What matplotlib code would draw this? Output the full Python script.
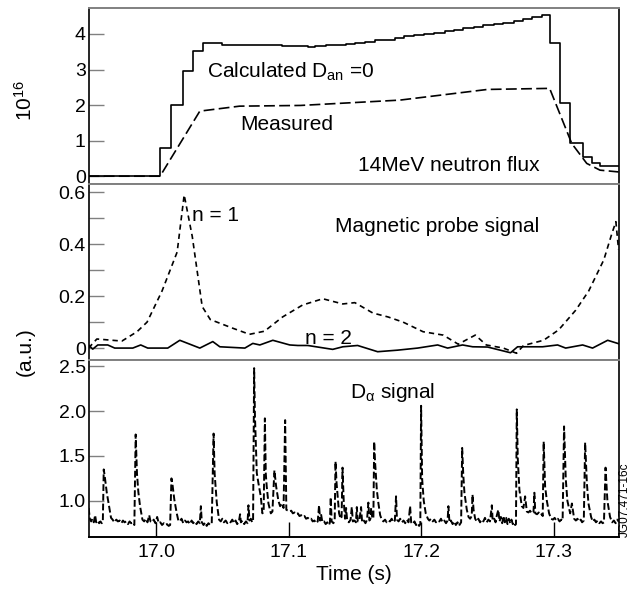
#!/usr/bin/env python
# -*- coding: utf-8 -*-
"""Neutron flux, magnetic probe and D-alpha traces on a shared time axis."""

import matplotlib as mpl
mpl.use('Agg')
from matplotlib import pyplot as plt
from matplotlib.ticker import MultipleLocator

FIG_W_IN = 6.34
FIG_H_IN = 5.90
DPI = 100

# 14 MeV neutron flux, calculated with D_an = 0 (step trace), units of 1e16
CALC_T = [16.949, 17.003, 17.0115, 17.020, 17.028, 17.0355, 17.045, 17.050,
          17.060, 17.070, 17.080, 17.090, 17.095, 17.100, 17.110, 17.115,
          17.120, 17.128, 17.135, 17.143, 17.150, 17.158, 17.165, 17.172,
          17.180, 17.187, 17.195, 17.202, 17.210, 17.218, 17.225, 17.232,
          17.240, 17.247, 17.255, 17.262, 17.270, 17.277, 17.284, 17.291,
          17.2974, 17.305, 17.3125, 17.3223, 17.329, 17.335, 17.349]
CALC_V = [0.0, 0.80, 2.00, 2.95, 3.52, 3.74, 3.74, 3.70,
          3.69, 3.69, 3.70, 3.70, 3.66, 3.67, 3.66, 3.64,
          3.67, 3.68, 3.70, 3.73, 3.75, 3.78, 3.82, 3.84,
          3.88, 3.93, 3.96, 4.00, 4.03, 4.07, 4.12, 4.16,
          4.20, 4.24, 4.27, 4.31, 4.36, 4.42, 4.47, 4.52,
          3.74, 2.05, 0.93, 0.54, 0.36, 0.28, 0.28]

# measured neutron flux
MEAS_T = [16.949, 17.003, 17.033, 17.063, 17.109, 17.184, 17.250, 17.297,
          17.3137, 17.325, 17.335, 17.349]
MEAS_V = [0.0, 0.0, 1.83, 1.97, 1.99, 2.14, 2.44, 2.47,
          0.92, 0.36, 0.17, 0.12]

# magnetic probe, n = 1 mode
N1_T = [16.949, 16.9553, 16.9742, 16.9856, 16.9932, 17.0045, 17.0159, 17.0212,
        17.0273, 17.0348, 17.0409, 17.0576, 17.0705, 17.0818, 17.0955, 17.1106,
        17.1182, 17.1258, 17.1409, 17.1500, 17.1636, 17.1750, 17.1864, 17.2015,
        17.2167, 17.2280, 17.2409, 17.2492, 17.2621, 17.2720, 17.2773, 17.2924,
        17.3038, 17.3167, 17.3265, 17.3379, 17.3439, 17.3470, 17.3490]
N1_V = [0.0, 0.035, 0.027, 0.063, 0.10, 0.22, 0.37, 0.59,
        0.43, 0.16, 0.11, 0.077, 0.053, 0.065, 0.12, 0.166,
        0.178, 0.19, 0.17, 0.175, 0.135, 0.12, 0.10, 0.063,
        0.05, 0.015, 0.05, 0.012, 0.0, -0.02, 0.01, 0.03,
        0.07, 0.146, 0.22, 0.34, 0.44, 0.487, 0.38]

# magnetic probe, n = 2 mode
N2_T = [16.949, 16.9522, 16.9560, 16.9635, 16.9688, 16.9824, 16.9884, 16.9937,
        17.0088, 17.0179, 17.0330, 17.0428, 17.0481, 17.0670, 17.0730, 17.0783,
        17.0881, 17.1009, 17.1070, 17.1145, 17.1333, 17.1409, 17.1521, 17.1672,
        17.1823, 17.1974, 17.2125, 17.2200, 17.2313, 17.2389, 17.2502, 17.2675,
        17.2728, 17.2917, 17.3030, 17.3091, 17.3219, 17.3294, 17.3408, 17.3490]
N2_V = [0.012, -0.004, 0.012, 0.012, 0.0, 0.0, 0.012, 0.0,
        0.0, 0.03, 0.0, 0.025, 0.005, 0.0, 0.018, 0.012,
        0.03, 0.012, 0.01, 0.01, -0.005, 0.005, 0.01, -0.014,
        -0.008, 0.0, 0.012, 0.0, 0.012, 0.005, 0.004, -0.018,
        0.005, 0.005, 0.012, 0.0, 0.012, 0.0, 0.03, 0.017]

# D-alpha signal (a.u.)
DA_T = [16.9491, 16.9500, 16.9510, 16.9520, 16.9530, 16.9540, 16.9548, 16.9560,
        16.9570, 16.9580, 16.9590, 16.9598,
        16.9605, 16.9612, 16.9628, 16.9645, 16.9660, 16.9672,
        16.9685, 16.9700, 16.9712, 16.9725, 16.9738, 16.9750, 16.9762, 16.9775,
        16.9788, 16.9800, 16.9812, 16.9825, 16.9836,
        16.9846, 16.9856, 16.9866, 16.9879, 16.9897,
        16.9910, 16.9922, 16.9935, 16.9948, 16.9958, 16.9970, 16.9982, 16.9995,
        17.0008, 17.0020, 17.0032, 17.0045, 17.0058, 17.0070, 17.0082, 17.0095,
        17.0106,
        17.0116, 17.0124, 17.0138, 17.0156, 17.0168,
        17.0180, 17.0192, 17.0205, 17.0218, 17.0230, 17.0242, 17.0255, 17.0268,
        17.0280, 17.0292, 17.0305, 17.0318, 17.0330, 17.0338, 17.0345, 17.0358,
        17.0370, 17.0382, 17.0395, 17.0408, 17.0420,
        17.0434, 17.0442, 17.0458, 17.0475,
        17.0488, 17.0500, 17.0512, 17.0525, 17.0538, 17.0550, 17.0562, 17.0575,
        17.0588, 17.0600, 17.0612, 17.0625, 17.0634, 17.0640, 17.0652, 17.0665,
        17.0678, 17.0690, 17.0697, 17.0705, 17.0715, 17.0725, 17.0732,
        17.0740, 17.0746, 17.0752, 17.0760, 17.0772, 17.0790, 17.0802, 17.0812,
        17.0821, 17.0828, 17.0835, 17.0848, 17.0866, 17.0878,
        17.0893, 17.0906, 17.0923, 17.0936, 17.0949, 17.0962,
        17.0974, 17.0983,
        17.0995, 17.1008, 17.1020, 17.1032, 17.1045, 17.1058, 17.1070, 17.1082,
        17.1095, 17.1108, 17.1120, 17.1132, 17.1145, 17.1158, 17.1170, 17.1182,
        17.1195, 17.1208, 17.1220, 17.1230, 17.1238, 17.1245, 17.1255, 17.1268,
        17.1280, 17.1292, 17.1305, 17.1312, 17.1318, 17.1325, 17.1338, 17.1348,
        17.1354, 17.1362, 17.1368, 17.1381, 17.1392, 17.1400,
        17.1407, 17.1416, 17.1426,
        17.1434, 17.1442, 17.1455, 17.1468, 17.1477, 17.1485, 17.1498, 17.1508,
        17.1515, 17.1522, 17.1535, 17.1547, 17.1555, 17.1568, 17.1580, 17.1592,
        17.1602, 17.1610, 17.1618, 17.1623, 17.1632, 17.1640,
        17.1646, 17.1652, 17.1658, 17.1666, 17.1678, 17.1691, 17.1703,
        17.1715, 17.1728, 17.1740, 17.1752, 17.1765, 17.1778, 17.1790, 17.1802,
        17.1811, 17.1818, 17.1830, 17.1842, 17.1855, 17.1868, 17.1880, 17.1892,
        17.1905, 17.1917, 17.1925, 17.1938, 17.1950, 17.1962, 17.1975, 17.1985,
        17.1994,
        17.2000, 17.2008, 17.2020, 17.2035, 17.2051,
        17.2062, 17.2075, 17.2088, 17.2100, 17.2112, 17.2125, 17.2138, 17.2150,
        17.2162, 17.2175, 17.2188, 17.2200, 17.2206, 17.2214, 17.2225, 17.2238,
        17.2250, 17.2262, 17.2275, 17.2285, 17.2294, 17.2302,
        17.2310, 17.2318, 17.2327, 17.2345, 17.2358, 17.2370, 17.2382,
        17.2388, 17.2396, 17.2408,
        17.2420, 17.2432, 17.2445, 17.2458, 17.2470, 17.2482, 17.2495, 17.2508,
        17.2520, 17.2534, 17.2540, 17.2552, 17.2562, 17.2572, 17.2583, 17.2592,
        17.2602, 17.2612, 17.2622, 17.2632, 17.2642, 17.2652, 17.2662, 17.2672,
        17.2682, 17.2692, 17.2702, 17.2710, 17.2716,
        17.2722, 17.2730, 17.2742, 17.2760, 17.2772, 17.2785, 17.2798,
        17.2810, 17.2822, 17.2835, 17.2848, 17.2855, 17.2862, 17.2875, 17.2888,
        17.2900, 17.2911, 17.2918,
        17.2925, 17.2936, 17.2949, 17.2966, 17.2981,
        17.2995, 17.3008, 17.3020, 17.3032, 17.3045, 17.3058, 17.3068,
        17.3079, 17.3092, 17.3104, 17.3125, 17.3138, 17.3155,
        17.3168, 17.3180, 17.3192, 17.3205, 17.3215, 17.3228,
        17.3238, 17.3251, 17.3263, 17.3283,
        17.3295, 17.3308, 17.3320, 17.3332, 17.3345, 17.3358, 17.3370, 17.3380,
        17.3392, 17.3406, 17.3426, 17.3442, 17.3455, 17.3468, 17.3480, 17.3491]
DA_V = [0.92, 0.80, 0.77, 0.80, 0.76, 0.84, 0.76, 0.78,
        0.75, 0.77, 0.75, 0.76,
        1.35, 1.28, 1.09, 0.94, 0.81, 0.79,
        0.76, 0.79, 0.77, 0.78, 0.75, 0.78, 0.76, 0.77,
        0.74, 0.77, 0.75, 0.76, 0.73,
        1.74, 1.30, 1.10, 0.94, 0.79,
        0.77, 0.80, 0.76, 0.84, 0.77, 0.76, 0.79, 0.75,
        0.82, 0.75, 0.76, 0.73, 0.75, 0.73, 0.74, 0.72,
        0.73,
        1.25, 1.18, 1.01, 0.86, 0.78,
        0.77, 0.80, 0.75, 0.78, 0.76, 0.77, 0.74, 0.78,
        0.75, 0.77, 0.74, 0.77, 0.75, 0.94, 0.76, 0.73,
        0.76, 0.72, 0.75, 0.73, 0.75,
        1.75, 1.30, 0.98, 0.79,
        0.77, 0.80, 0.76, 0.78, 0.75, 0.77, 0.76, 0.79,
        0.75, 0.78, 0.74, 0.77, 0.85, 0.76, 0.78, 0.74,
        0.77, 0.75, 0.95, 0.78, 0.80, 0.76, 0.78,
        2.48, 1.95, 1.68, 1.31, 1.20, 1.05, 0.86, 0.88,
        1.92, 1.30, 1.16, 0.97, 0.86, 0.88,
        1.34, 1.16, 1.00, 0.94, 0.97, 0.92,
        1.90, 0.90,
        0.89, 0.88, 0.89, 0.86, 0.87, 0.85, 0.86, 0.83,
        0.84, 0.82, 0.83, 0.80, 0.81, 0.79, 0.80, 0.77,
        0.78, 0.75, 0.77, 0.95, 0.78, 0.85, 0.76, 0.77,
        0.74, 0.76, 0.73, 0.76, 1.04, 0.77, 0.75, 0.78,
        1.44, 1.20, 1.09, 0.86, 0.80, 0.82,
        1.37, 1.00, 0.80,
        0.92, 0.78, 0.76, 0.79, 0.93, 0.77, 0.78, 0.76,
        0.93, 0.77, 0.79, 0.93, 0.76, 0.78, 0.75, 0.79,
        0.98, 0.78, 0.80, 0.92, 0.80, 0.82,
        1.66, 1.45, 1.31, 1.12, 0.97, 0.84, 0.79,
        0.77, 0.79, 0.76, 0.78, 0.77, 0.80, 0.76, 0.78,
        1.05, 0.79, 0.77, 0.80, 0.76, 0.78, 0.75, 0.79,
        0.76, 0.94, 0.76, 0.74, 0.77, 0.73, 0.75, 0.72,
        0.74,
        2.06, 1.24, 1.00, 0.86, 0.80,
        0.78, 0.80, 0.77, 0.79, 0.76, 0.78, 0.77, 0.80,
        0.76, 0.78, 0.75, 0.78, 0.94, 0.76, 0.78, 0.74,
        0.77, 0.73, 0.76, 0.72, 0.74, 0.76,
        1.59, 1.30, 1.09, 0.90, 0.82, 0.80, 0.83,
        1.07, 0.90, 0.80,
        0.77, 0.80, 0.76, 0.79, 0.77, 0.81, 0.76, 0.79,
        0.77, 0.95, 0.78, 0.80, 0.76, 0.84, 0.90, 0.77,
        0.82, 0.75, 0.83, 0.76, 0.81, 0.74, 0.80, 0.75,
        0.79, 0.74, 0.76, 0.73, 0.74,
        2.02, 1.46, 1.12, 0.94, 0.92, 1.05, 0.88,
        0.87, 0.89, 0.86, 0.87, 1.09, 0.86, 0.85, 0.87,
        0.84, 0.85, 0.83,
        1.66, 1.16, 1.00, 0.86, 0.80,
        0.79, 0.81, 0.78, 0.80, 0.77, 0.79, 0.78,
        1.83, 1.24, 1.00, 0.86, 0.97, 0.80,
        0.78, 0.80, 0.77, 0.79, 0.76, 0.78,
        1.65, 1.20, 0.97, 0.82,
        0.77, 0.79, 0.76, 0.78, 0.75, 0.77, 0.75, 0.76,
        1.37, 1.00, 0.82, 0.76, 0.78, 0.75, 0.79, 0.77]

T_MIN, T_MAX = 16.949, 17.349
TIME_TICKS = [17.0, 17.1, 17.2, 17.3]
FLUX_TICKS = [0, 1, 2, 3, 4]
PROBE_TICKS = [0, 0.2, 0.4, 0.6]
PROBE_LABELS = ['0', '0.2', '0.4', '0.6']
DA_TICKS = [1.0, 1.5, 2.0, 2.5]

GREY = '#808080'
TICK_FS = 14
TEXT_FS = 15


def style_axis(ax, ylim, yticks, ylabels=None):
    """Common frame and tick styling for one panel."""
    ax.set_xlim(T_MIN, T_MAX)
    ax.set_ylim(*ylim)
    ax.set_yticks(yticks)
    if ylabels is not None:
        ax.set_yticklabels(ylabels)
    ax.tick_params(axis='y', direction='in', length=11, width=1, pad=2,
                   labelsize=TICK_FS, colors='k', color=GREY)
    ax.tick_params(axis='x', direction='in', length=11, width=1, pad=5,
                   labelsize=TICK_FS, color='k')
    ax.spines['top'].set_color(GREY)
    ax.spines['top'].set_linewidth(1.4)
    ax.spines['bottom'].set_color(GREY)
    ax.spines['bottom'].set_linewidth(1.4)
    ax.spines['left'].set_linewidth(1.2)
    ax.spines['right'].set_linewidth(1.2)


def main():
    plt.rcParams['font.family'] = ['Liberation Sans', 'DejaVu Sans']
    plt.rcParams['mathtext.fontset'] = 'custom'
    plt.rcParams['mathtext.rm'] = 'Liberation Sans'
    plt.rcParams['mathtext.it'] = 'Liberation Sans:italic'

    fig = plt.figure(figsize=(FIG_W_IN, FIG_H_IN), dpi=DPI, facecolor='w')
    left, width = 0.1396, 0.836
    ax1 = fig.add_axes([left, 0.6881, width, 0.2983])
    ax2 = fig.add_axes([left, 0.3898, width, 0.2983])
    ax3 = fig.add_axes([left, 0.0898, width, 0.2999])

    # neutron flux
    ax1.plot(CALC_T, CALC_V, color='k', lw=1.2, drawstyle='steps-post')
    ax1.plot(MEAS_T, MEAS_V, color='k', lw=1.2, dashes=(6.5, 2.6))
    style_axis(ax1, (-0.22, 4.73), FLUX_TICKS)
    ax1.set_xticks([])
    ax1.text(17.0385, 2.93, r'Calculated D$_{\mathrm{an}}$ =0', fontsize=TEXT_FS,
             ha='left', va='center')
    ax1.text(17.0634, 1.46, 'Measured', fontsize=TEXT_FS, ha='left', va='center')
    ax1.text(17.1525, 0.31, '14MeV neutron flux', fontsize=TEXT_FS,
             ha='left', va='center')

    # magnetic probe
    ax2.plot(N1_T, N1_V, color='k', lw=1.2, dashes=(3.2, 2.4))
    ax2.plot(N2_T, N2_V, color='k', lw=1.2)
    style_axis(ax2, (-0.046, 0.632), PROBE_TICKS, PROBE_LABELS)
    ax2.yaxis.set_minor_locator(MultipleLocator(0.1))
    ax2.tick_params(axis='y', which='minor', direction='in', length=11,
                    width=1, color=GREY)
    ax2.set_xticks([])
    ax2.text(17.0272, 0.509, 'n = 1', fontsize=TEXT_FS, ha='left', va='center')
    ax2.text(17.1351, 0.470, 'Magnetic probe signal', fontsize=TEXT_FS,
             ha='left', va='center')
    ax2.text(17.1125, 0.0385, 'n = 2', fontsize=TEXT_FS, ha='left', va='center')

    # D-alpha
    ax3.plot(DA_T, DA_V, color='k', lw=1.4, dashes=(3.5, 1.5))
    style_axis(ax3, (0.596, 2.57), DA_TICKS)
    ax3.spines['bottom'].set_color('k')
    ax3.set_xticks(TIME_TICKS)
    ax3.set_xticklabels(['%.1f' % t for t in TIME_TICKS])
    ax3.text(17.1464, 2.21, r'D$_{\mathrm{α}}$ signal', fontsize=TEXT_FS,
             ha='left', va='center')
    ax3.set_xlabel('Time (s)', fontsize=TEXT_FS, labelpad=3)

    fig.text(25 / 634, 1 - 100 / 590, r'10$^{16}$', rotation=90,
             fontsize=TEXT_FS, ha='center', va='center')
    fig.text(25 / 634, 1 - 352 / 590, '(a.u.)', rotation=90, fontsize=TEXT_FS,
             ha='center', va='center')
    fig.text(625 / 634, 1 - 500 / 590, 'JG07.471-16c', rotation=90,
             fontsize=8.5, ha='center', va='center')

    fig.savefig('out.png', dpi=DPI)


if __name__ == '__main__':
    main()
